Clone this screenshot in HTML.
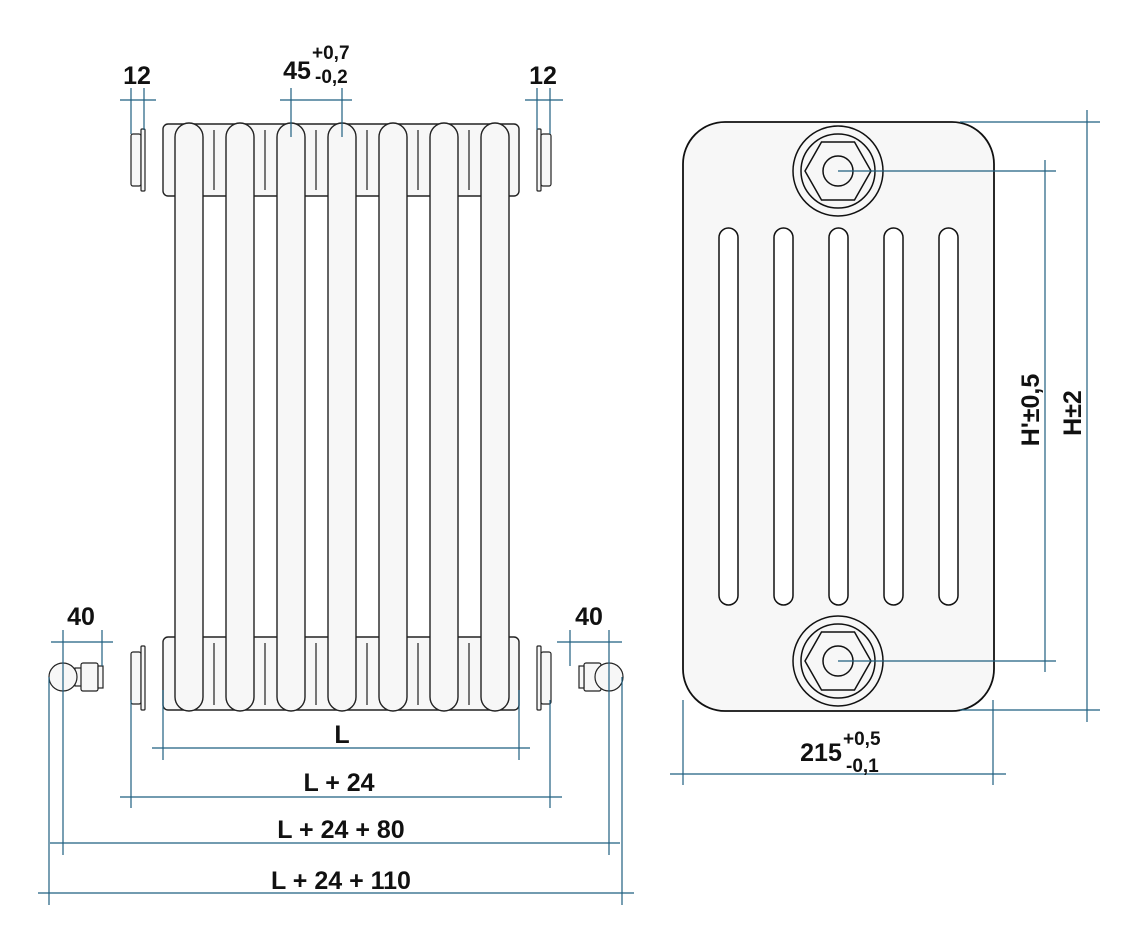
<!DOCTYPE html>
<html><head><meta charset="utf-8"><style>
html,body{margin:0;padding:0;background:#fff;}
svg{display:block;}
text{font-family:"Liberation Sans",sans-serif;fill:#111;}
</style></head><body>
<svg width="1147" height="943" viewBox="0 0 1147 943" xmlns="http://www.w3.org/2000/svg">
<defs>
<g id="tube"><rect x="-14" y="123" width="28" height="588" rx="14" fill="#f7f7f7" stroke="#222" stroke-width="1.4"/></g>
</defs>
<g fill="#f7f7f7" stroke="#222" stroke-width="1.4">
<rect x="163" y="124" width="356" height="72" rx="5"/>
<rect x="163" y="637" width="356" height="73" rx="5"/>
</g>
<g stroke="#222" stroke-width="1.2">
<line x1="214" y1="130" x2="214" y2="190"/><line x1="265" y1="130" x2="265" y2="190"/><line x1="316" y1="130" x2="316" y2="190"/><line x1="367" y1="130" x2="367" y2="190"/><line x1="418" y1="130" x2="418" y2="190"/><line x1="469" y1="130" x2="469" y2="190"/>
<line x1="214" y1="643" x2="214" y2="705"/><line x1="265" y1="643" x2="265" y2="705"/><line x1="316" y1="643" x2="316" y2="705"/><line x1="367" y1="643" x2="367" y2="705"/><line x1="418" y1="643" x2="418" y2="705"/><line x1="469" y1="643" x2="469" y2="705"/>
</g>
<use href="#tube" x="189"/><use href="#tube" x="240"/><use href="#tube" x="291"/><use href="#tube" x="342"/><use href="#tube" x="393"/><use href="#tube" x="444"/><use href="#tube" x="495"/>
<g fill="#f7f7f7" stroke="#222" stroke-width="1.2">
<rect x="131" y="134" width="10" height="52" rx="2"/><rect x="141" y="129" width="4" height="62" rx="1"/>
<rect x="537" y="129" width="4" height="62" rx="1"/><rect x="541" y="134" width="10" height="52" rx="2"/>
<rect x="131" y="652" width="10" height="52" rx="2"/><rect x="141" y="646" width="4" height="64" rx="1"/>
<rect x="537" y="646" width="4" height="64" rx="1"/><rect x="541" y="652" width="10" height="52" rx="2"/>
<rect x="75" y="668" width="10" height="18"/><rect x="81" y="663" width="17" height="28" rx="2"/><rect x="98" y="666" width="5" height="22"/>
<circle cx="63" cy="677" r="14"/>
<rect x="597" y="668" width="10" height="18"/><rect x="584" y="663" width="17" height="28" rx="2"/><rect x="579" y="666" width="5" height="22"/>
<circle cx="609" cy="677" r="14"/>
</g>
<rect x="683" y="122" width="311" height="589" rx="42" fill="#f7f7f7" stroke="#111" stroke-width="1.8"/>
<g fill="#fff" stroke="#111" stroke-width="1.5">
<rect x="719" y="228" width="19" height="377" rx="9.5"/><rect x="774" y="228" width="19" height="377" rx="9.5"/><rect x="829" y="228" width="19" height="377" rx="9.5"/><rect x="884" y="228" width="19" height="377" rx="9.5"/><rect x="939" y="228" width="19" height="377" rx="9.5"/>
</g>
<g fill="none" stroke="#111" stroke-width="1.5">
<circle cx="838" cy="171" r="45"/><circle cx="838" cy="171" r="37"/><polygon points="871,171 854.5,200 821.5,200 805,171 821.5,142 854.5,142"/><circle cx="838" cy="171" r="15"/>
<circle cx="838" cy="661" r="45"/><circle cx="838" cy="661" r="37"/><polygon points="871,661 854.5,690 821.5,690 805,661 821.5,632 854.5,632"/><circle cx="838" cy="661" r="15"/>
</g>
<g stroke="#1f5f80" stroke-width="1.2" fill="none">
<line x1="131" y1="88" x2="131" y2="134"/><line x1="144" y1="88" x2="144" y2="130"/><line x1="120" y1="100" x2="156" y2="100"/>
<line x1="291" y1="88" x2="291" y2="137"/><line x1="342" y1="88" x2="342" y2="137"/><line x1="280" y1="100" x2="352" y2="100"/>
<line x1="537" y1="88" x2="537" y2="130"/><line x1="550" y1="88" x2="550" y2="134"/><line x1="525" y1="100" x2="563" y2="100"/>
<line x1="63" y1="630" x2="63" y2="677"/><line x1="102" y1="630" x2="102" y2="666"/><line x1="51" y1="642" x2="113" y2="642"/>
<line x1="570" y1="630" x2="570" y2="666"/><line x1="609" y1="630" x2="609" y2="677"/><line x1="557" y1="642" x2="622" y2="642"/>
<line x1="163" y1="690" x2="163" y2="760"/><line x1="519" y1="690" x2="519" y2="760"/><line x1="152" y1="748" x2="530" y2="748"/>
<line x1="131" y1="700" x2="131" y2="808"/><line x1="550" y1="700" x2="550" y2="808"/><line x1="120" y1="797" x2="562" y2="797"/>
<line x1="63" y1="677" x2="63" y2="855"/><line x1="609" y1="677" x2="609" y2="855"/><line x1="50" y1="843" x2="620" y2="843"/>
<line x1="49" y1="677" x2="49" y2="905"/><line x1="622" y1="677" x2="622" y2="905"/><line x1="38" y1="893" x2="634" y2="893"/>
<line x1="960" y1="122" x2="1100" y2="122"/><line x1="960" y1="710" x2="1100" y2="710"/><line x1="1087" y1="110" x2="1087" y2="722"/>
<line x1="838" y1="171" x2="1056" y2="171"/><line x1="838" y1="661" x2="1056" y2="661"/><line x1="1045" y1="160" x2="1045" y2="672"/>
<line x1="683" y1="700" x2="683" y2="785"/><line x1="993" y1="700" x2="993" y2="785"/><line x1="670" y1="774" x2="1006" y2="774"/>
</g>
<g font-weight="bold" font-size="25">
<text x="137" y="84" text-anchor="middle">12</text>
<text x="543" y="84" text-anchor="middle">12</text>
<text x="297" y="79" text-anchor="middle">45</text>
<text x="81" y="625" text-anchor="middle">40</text>
<text x="589" y="625" text-anchor="middle">40</text>
<text x="342" y="743" text-anchor="middle">L</text>
<text x="339" y="791" text-anchor="middle">L + 24</text>
<text x="341" y="838" text-anchor="middle">L + 24 + 80</text>
<text x="341" y="889" text-anchor="middle">L + 24 + 110</text>
<text x="821" y="761" text-anchor="middle">215</text>
<text transform="translate(1039,410) rotate(-90)" text-anchor="middle">H'±0,5</text>
<text transform="translate(1081,413) rotate(-90)" text-anchor="middle">H±2</text>
</g>
<g font-size="19" font-weight="bold">
<text x="312" y="59">+0,7</text><text x="315" y="83">-0,2</text>
<text x="843" y="745">+0,5</text><text x="846" y="772">-0,1</text>
</g>
</svg>
</body></html>
